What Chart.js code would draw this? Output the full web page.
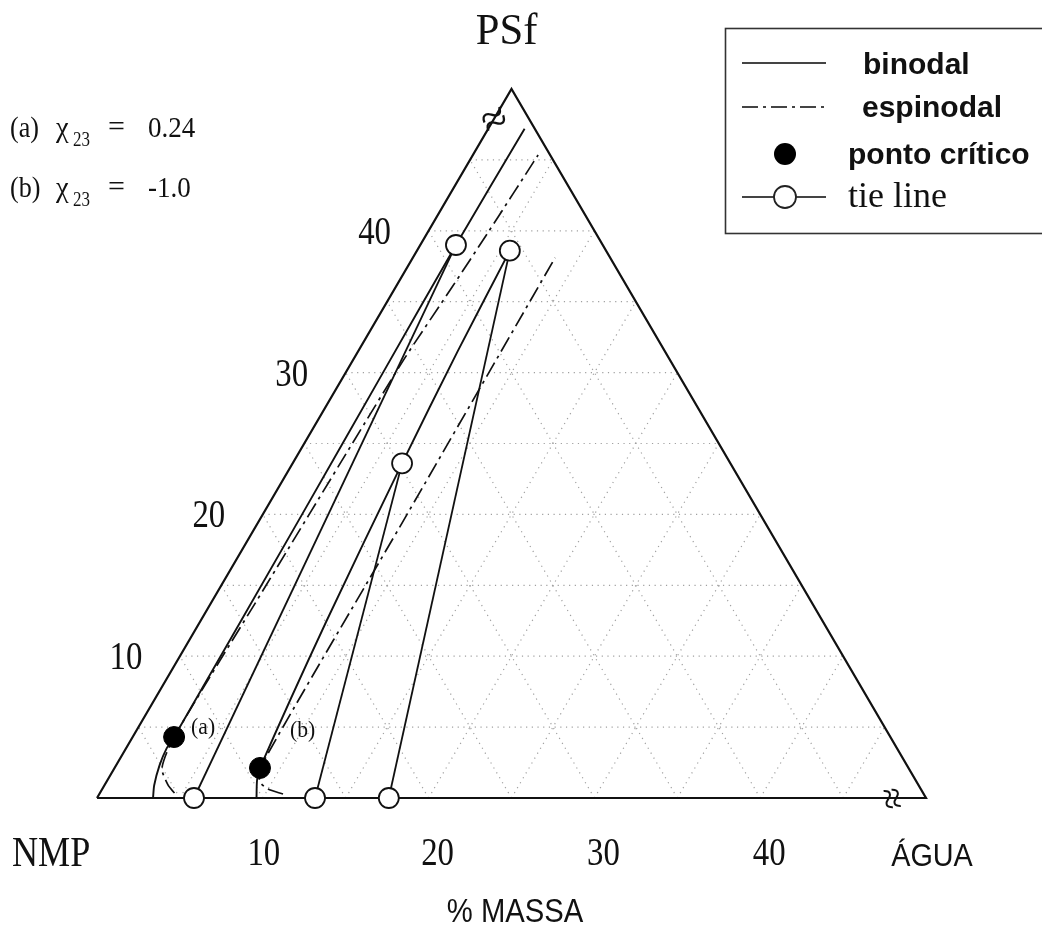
<!DOCTYPE html>
<html><head><meta charset="utf-8">
<script src="https://cdn.jsdelivr.net/npm/chart.js@4.4.1/dist/chart.umd.min.js"></script>
<style>html,body{margin:0;padding:0;background:#fff;} canvas{display:block;}</style>
</head><body>
<canvas id="c" width="1042" height="935"></canvas>
<script>
// All points are [water %, PSf %] (mass %), NMP = remainder
const binodalA = [[3.38,0],[3.0,0.9],[2.62,2.3],[2.45,3.5],[2.5,4.3],[2.37,20],[2.25,30],[2.15,39.0],[2.19,47.2]];
const spinodalA = [[4.5,0.35],[3.82,0.92],[2.86,2.12],[2.5,4.3],[2.7,15],[2.9,25],[3.05,31],[3.4,36],[3.65,40],[3.93,45.35]];
const tieLineA = [[5.85,0],[2.15,39.0]];
const binodalB = [[9.62,0],[9.02,1.27],[8.77,2.12],[7.6,12.5],[6.6,23.6],[6.0,31.5],[5.6,38.6]];
const spinodalB = [[11.08,0.28],[10.0,0.63],[9.27,1.13],[8.77,2.12],[8.7,20],[8.58,38.1]];
const tieLineB1 = [[13.15,0],[6.6,23.6]];
const tieLineB2 = [[17.6,0],[5.6,38.6]];
const criticalPoints = [[2.5,4.3],[8.77,2.12]];
const tiePoints = [[5.85,0],[2.15,39.0],[13.15,0],[6.6,23.6],[17.6,0],[5.6,38.6]];
const bottomTicks = ['10','20','30','40'];
const leftTicks = ['10','20','30','40'];
const gridSteps = [5,10,15,20,25,30,35,40,45];
const maxPct = 50;

function tern(pt){ return {x: pt[0] + pt[1]/2, y: pt[1]}; }
function line(pts, extra){ return Object.assign({data: pts.map(tern), showLine:true, pointRadius:0, borderColor:'#111', borderWidth:1.9, fill:false, clip:false}, extra||{}); }

const datasets = [];
// dotted grid
gridSteps.forEach(s => {
  const g = {borderColor:'#a0a0a0', borderWidth:1.2, borderDash:[1.2,4.5], order:20};
  datasets.push(line([[0,s],[maxPct-s,s]], g));
  datasets.push(line([[s,0],[s,maxPct-s]], g));
  datasets.push(line([[s,0],[0,s]], g));
});
// triangle
datasets.push(line([[0,0],[maxPct,0],[0,maxPct],[0,0]], {borderColor:'#111', borderWidth:2.2, order:15}));
datasets.push(line(binodalA, {label:'binodal', tension:0.25, order:5}));
datasets.push(line(binodalB, {label:'binodal', tension:0.25, order:5}));
datasets.push(line(spinodalA, {label:'espinodal', tension:0.25, borderDash:[16,5,3,5], borderWidth:1.7, order:5}));
datasets.push(line(spinodalB, {label:'espinodal', tension:0.25, borderDash:[16,5,3,5], borderWidth:1.7, order:5}));
datasets.push(line(tieLineA, {label:'tie line', borderWidth:1.8, order:6}));
datasets.push(line(tieLineB1, {label:'tie line', borderWidth:1.8, order:6}));
datasets.push(line(tieLineB2, {label:'tie line', borderWidth:1.8, order:6}));
datasets.push({label:'tie line', data: tiePoints.map(tern), showLine:false, pointRadius:10, pointBackgroundColor:'#fff', pointBorderColor:'#111', pointBorderWidth:1.8, clip:false, order:2});
datasets.push({label:'ponto crítico', data: criticalPoints.map(tern), showLine:false, pointRadius:10.5, pointBackgroundColor:'#000', pointBorderColor:'#000', pointBorderWidth:1, clip:false, order:1});

function txt(ctx, s, x, y, font, sx, align, base){
  ctx.save(); ctx.translate(x,y); ctx.scale(sx,1);
  ctx.font = font; ctx.textAlign = align||'left'; ctx.textBaseline = base||'alphabetic';
  ctx.fillStyle = '#111'; ctx.fillText(s,0,0); ctx.restore();
}
const SERIF = '"Liberation Serif", "DejaVu Serif", serif';
const SANS = '"Liberation Sans", Arial, sans-serif';

const deco = {
  id:'deco',
  afterDraw(chart){
    const ctx = chart.ctx, xs = chart.scales.x, ys = chart.scales.y;
    const P = (w,p) => [xs.getPixelForValue(w + p/2), ys.getPixelForValue(p)];
    // vertex labels
    let [ax] = P(0, maxPct);
    txt(ctx, 'PSf', ax-5, 44, '44px '+SERIF, 0.97, 'center');
    txt(ctx, 'NMP', 12, 866, '42px '+SERIF, 0.86, 'left');
    let [rx] = P(maxPct, 0);
    txt(ctx, 'ÁGUA', rx+6, 866, '32px '+SANS, 0.9, 'center');
    txt(ctx, '% MASSA', 515, 922, '34px '+SANS, 0.86, 'center');
    // bottom tick labels
    bottomTicks.forEach((t, i) => {
      const [x] = P(+t, 0);
      txt(ctx, t, x + (i === 0 ? 1 : 9), 865, '40px '+SERIF, 0.82, 'center');
    });
    // left tick labels
    leftTicks.forEach(t => {
      const [x,y] = P(0, +t);
      txt(ctx, t, x-54, y+13, '40px '+SERIF, 0.82, 'center');
    });
    // curve labels
    let [cx, cy] = P(criticalPoints[0][0], criticalPoints[0][1]);
    txt(ctx, '(a)', cx+17, cy-9, '24px '+SERIF, 0.9, 'left', 'middle');
    [cx, cy] = P(criticalPoints[1][0], criticalPoints[1][1]);
    txt(ctx, '(b)', cx+30, cy-37, '24px '+SERIF, 0.9, 'left', 'middle');
    // chi annotations
    const chi = (lab, val, y) => {
      txt(ctx, lab, 10, y, '29px '+SERIF, 0.9, 'left');
      txt(ctx, 'χ', 56, y, '30px '+SERIF, 0.95, 'left');
      txt(ctx, '23', 73, y+9, '20px '+SERIF, 0.85, 'left');
      txt(ctx, '=', 108, y-1, '30px '+SERIF, 1.0, 'left');
      txt(ctx, val, 148, y, '30px '+SERIF, 0.9, 'left');
    };
    chi('(a)', '0.24', 137);
    chi('(b)', '-1.0', 197);
    // axis break marks
    let [bx, by] = P(0, 47.7);
    ctx.save(); ctx.translate(bx+3, by); ctx.rotate(-0.45);
    ctx.font = '46px '+SERIF; ctx.textAlign='center'; ctx.textBaseline='middle'; ctx.fillStyle='#111';
    ctx.fillText('≈',0,0); ctx.restore();
    [bx, by] = P(47.8, 0);
    ctx.save(); ctx.translate(bx, by+1); ctx.rotate(Math.PI/2 - 0.15);
    ctx.font = '40px '+SERIF; ctx.textAlign='center'; ctx.textBaseline='middle'; ctx.fillStyle='#111';
    ctx.fillText('≈',0,0); ctx.restore();
    // legend box
    ctx.save();
    ctx.strokeStyle = '#333'; ctx.lineWidth = 1.6;
    ctx.strokeRect(725.5, 28.5, 340, 205);
    ctx.strokeStyle = '#444'; ctx.lineWidth = 1.8;
    ctx.beginPath(); ctx.moveTo(742,63); ctx.lineTo(826,63); ctx.stroke();
    ctx.setLineDash([16,5,3,5]);
    ctx.beginPath(); ctx.moveTo(742,107); ctx.lineTo(826,107); ctx.stroke();
    ctx.setLineDash([]);
    ctx.fillStyle = '#000';
    ctx.beginPath(); ctx.arc(785,154,11,0,Math.PI*2); ctx.fill();
    ctx.beginPath(); ctx.moveTo(742,197); ctx.lineTo(826,197); ctx.stroke();
    ctx.fillStyle = '#fff'; ctx.strokeStyle = '#222';
    ctx.beginPath(); ctx.arc(785,197,11,0,Math.PI*2); ctx.fill(); ctx.stroke();
    ctx.restore();
    txt(ctx, 'binodal', 863, 74, 'bold 30px '+SANS, 1.0, 'left');
    txt(ctx, 'espinodal', 862, 117, 'bold 30px '+SANS, 1.0, 'left');
    txt(ctx, 'ponto crítico', 848, 164, 'bold 30px '+SANS, 1.0, 'left');
    txt(ctx, 'tie line', 848, 207, '36px '+SERIF, 1.0, 'left');
  }
};

new Chart(document.getElementById('c'), {
  type:'scatter',
  data:{datasets},
  options:{
    responsive:false, animation:false,
    layout:{padding:{left:97, right:116, top:89, bottom:137}},
    scales:{
      x:{type:'linear', min:0, max:maxPct, display:false},
      y:{type:'linear', min:0, max:maxPct, display:false}
    },
    plugins:{legend:{display:false}, tooltip:{enabled:false}}
  },
  plugins:[deco]
});
</script>
</body></html>
